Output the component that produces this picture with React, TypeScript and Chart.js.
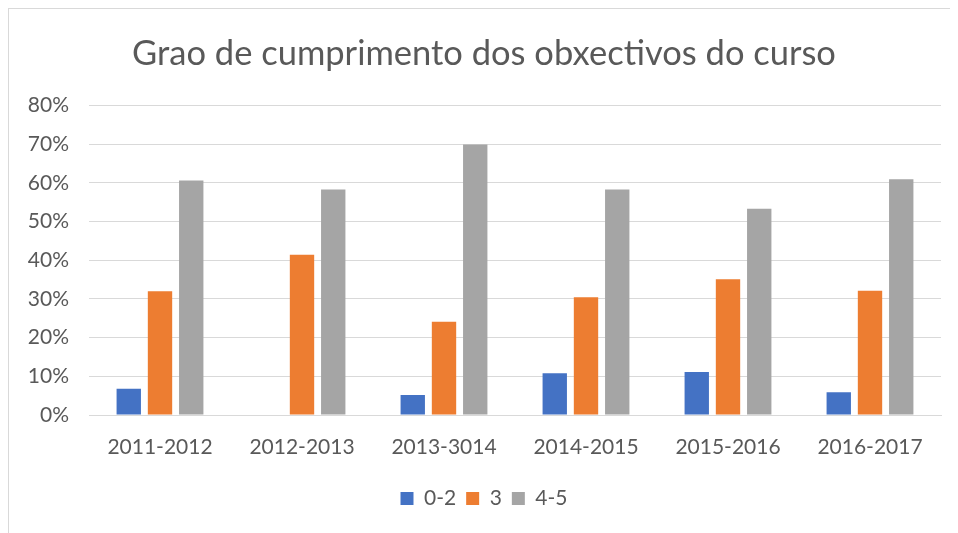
import React, { useEffect, useRef } from "react";
import { Chart, registerables } from "chart.js";

Chart.register(...registerables);

const categories = ["2011-2012", "2012-2013", "2013-3014", "2014-2015", "2015-2016", "2016-2017"];
const series02 = [0.068, 0, 0.052, 0.108, 0.111, 0.059];
const series3 = [0.32, 0.414, 0.241, 0.304, 0.351, 0.321];
const series45 = [0.606, 0.583, 0.699, 0.583, 0.533, 0.609];
const yTicks = [0, 0.1, 0.2, 0.3, 0.4, 0.5, 0.6, 0.7, 0.8];
const title = "Grao de cumprimento dos obxectivos do curso";

const FONT = "Lato, 'Open Sans', sans-serif";
const TEXT = "#595959";

export default function App() {
  const ref = useRef<HTMLCanvasElement | null>(null);
  useEffect(() => {
    if (!ref.current) return;
    const chart = new Chart(ref.current, {
      type: "bar",
      data: {
        labels: categories,
        datasets: [
          { label: "0-2", data: series02, backgroundColor: "#4472C4" },
          { label: "3", data: series3, backgroundColor: "#ED7D31" },
          { label: "4-5", data: series45, backgroundColor: "#A5A5A5" },
        ],
      },
      options: {
        animation: false,
        responsive: false,
        maintainAspectRatio: false,
        datasets: { bar: { categoryPercentage: 0.66, barPercentage: 0.78 } },
        layout: { padding: { left: 18, right: 29, top: 0, bottom: 19 } },
        plugins: {
          title: {
            display: true,
            text: title,
            color: TEXT,
            font: { family: FONT, size: 34.5, weight: "normal" },
            padding: { top: 24, bottom: 31 },
          },
          legend: {
            position: "bottom",
            labels: {
              color: TEXT,
              font: { family: FONT, size: 21 },
              boxWidth: 13,
              boxHeight: 13,
              padding: 10,
            },
          },
          tooltip: { enabled: false },
        },
        scales: {
          x: {
            grid: { display: false, drawTicks: false },
            border: { display: true, color: "#D9D9D9", width: 1 },
            ticks: {
              color: TEXT,
              font: { family: FONT, size: 21 },
              padding: 20,
              maxRotation: 0,
              autoSkip: false,
            },
            afterFit: (scale: any) => {
              scale.height = 63;
            },
          },
          y: {
            min: 0,
            max: 0.8,
            afterBuildTicks: (scale: any) => {
              scale.ticks = yTicks.map((v) => ({ value: v }));
            },
            afterFit: (scale: any) => {
              scale.width = 62;
            },
            grid: { color: "#D9D9D9", lineWidth: 1, drawTicks: false },
            border: { display: false },
            ticks: {
              color: TEXT,
              font: { family: FONT, size: 21 },
              padding: 20,
              callback: (v: any) => Math.round(Number(v) * 100) + "%",
            },
          },
        },
      },
    });
    return () => chart.destroy();
  }, []);
  return (
    <div style={{ width: 950, height: 525, overflow: "hidden" }}>
      <div
        style={{
          width: 962,
          height: 530,
          borderLeft: "1px solid #D9D9D9",
          borderTop: "1px solid #D9D9D9",
          background: "#fff",
        }}
      >
        <canvas ref={ref} width={961} height={529} style={{ display: "block" }} />
      </div>
    </div>
  );
}
